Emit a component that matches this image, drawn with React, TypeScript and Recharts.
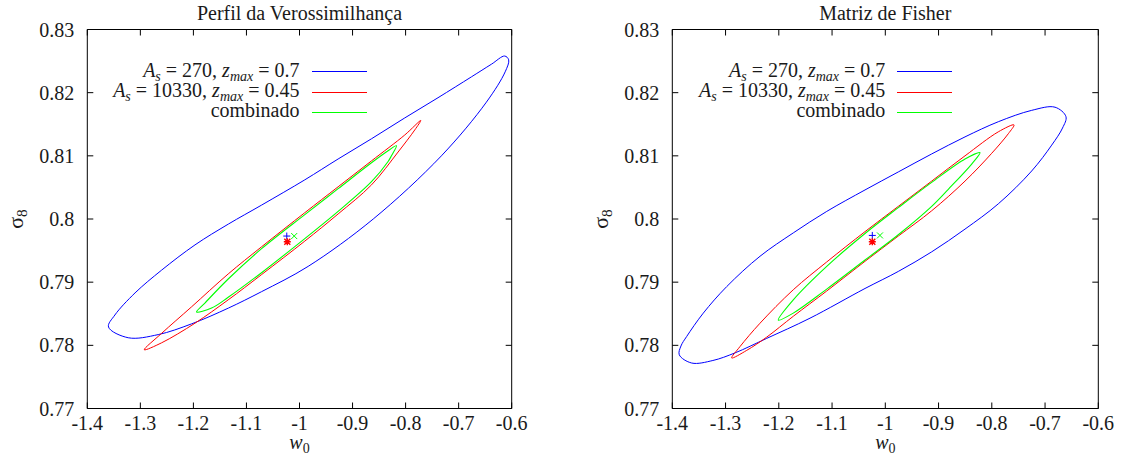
import React from "react";
import { ScatterChart, Scatter, XAxis, YAxis, ReferenceArea } from "recharts";

const X_TICKS = [-1.4, -1.3, -1.2, -1.1, -1, -0.9, -0.8, -0.7, -0.6];
const Y_TICKS = [0.77, 0.78, 0.79, 0.8, 0.81, 0.82, 0.83];

// legend: survey area A_s and z_max for the two single-survey contours
const AREAS = ["270", "10330"];
const ZMAX = ["0.7", "0.45"];
const COMBINED = "combinado";

const TITLES = ["Perfil da Verossimilhança", "Matriz de Fisher"];

// contours as [w0, sigma8] pairs, walked round each ellipse (first point repeated to close)
const perfilBlue = [
  [-1.0715, 0.8022], [-0.99, 0.8062], [-0.9272, 0.8095], [-0.8643, 0.8127], [-0.8016, 0.816],
  [-0.7389, 0.8192], [-0.676, 0.8225], [-0.6383, 0.8245], [-0.6133, 0.8258], [-0.6057, 0.8252],
  [-0.6123, 0.8233], [-0.6477, 0.8185], [-0.7325, 0.81], [-0.861, 0.8], [-0.9837, 0.7925],
  [-1.0715, 0.7885], [-1.134, 0.7859], [-1.2034, 0.7834], [-1.2663, 0.7817], [-1.3228, 0.7812],
  [-1.36, 0.7829], [-1.348, 0.7848], [-1.31, 0.7883], [-1.26, 0.7919], [-1.197, 0.7959],
  [-1.134, 0.7992], [-1.0715, 0.8022],
];
const perfilRed = [
  [-0.99, 0.801], [-0.9272, 0.8051], [-0.8643, 0.8092], [-0.8016, 0.8133], [-0.7714, 0.8156],
  [-0.7827, 0.8141], [-0.8142, 0.8106], [-0.8643, 0.8054], [-0.9272, 0.8008], [-0.99, 0.7965],
  [-1.0715, 0.7912], [-1.1344, 0.7872], [-1.1971, 0.7835], [-1.2599, 0.7804], [-1.2926, 0.7793],
  [-1.2599, 0.7819], [-1.2034, 0.7861], [-1.1344, 0.7913], [-1.0715, 0.7956], [-0.99, 0.801],
];
const perfilGreen = [
  [-0.99, 0.8007], [-0.9272, 0.8048], [-0.8643, 0.8089], [-0.833, 0.8108], [-0.8172, 0.8116],
  [-0.8261, 0.8101], [-0.833, 0.8091], [-0.8643, 0.8059], [-0.9272, 0.8012], [-0.99, 0.7969],
  [-1.0715, 0.7915], [-1.1344, 0.7876], [-1.1657, 0.7859], [-1.194, 0.7853], [-1.1783, 0.7867],
  [-1.1344, 0.7905], [-1.0715, 0.7953], [-0.99, 0.8007],
];
// best fits: blue +, red *, green x
const perfilBest = [[-1.024, 0.7973], [-1.023, 0.7964], [-1.01, 0.7973]];

const fisherBlue = [
  [-1.0381, 0.8046], [-0.9756, 0.80745], [-0.9129, 0.8103], [-0.8503, 0.813], [-0.7878, 0.8154],
  [-0.7251, 0.8172], [-0.6813, 0.8177], [-0.6607, 0.8162], [-0.6672, 0.8144], [-0.6875, 0.8117],
  [-0.7251, 0.8076], [-0.7878, 0.8024], [-0.8503, 0.7984], [-0.9129, 0.7948], [-0.9756, 0.7917],
  [-1.0381, 0.789], [-1.1414, 0.7843], [-1.2227, 0.7811], [-1.2823, 0.7788], [-1.3238, 0.7776],
  [-1.3636, 0.7772], [-1.3869, 0.7785], [-1.3837, 0.7799], [-1.373, 0.7814], [-1.3418, 0.7851],
  [-1.2978, 0.7893], [-1.2353, 0.7941], [-1.1728, 0.7978], [-1.11, 0.8012], [-1.0381, 0.8046],
];
const fisherRed = [
  [-1.0381, 0.798], [-0.9756, 0.802], [-0.9129, 0.806], [-0.8503, 0.81], [-0.7878, 0.8138],
  [-0.7583, 0.8149], [-0.769, 0.8135], [-0.8002, 0.8104], [-0.8503, 0.806], [-0.9129, 0.8013],
  [-0.9756, 0.7973], [-1.0381, 0.7933], [-1.11, 0.7886], [-1.1728, 0.7846], [-1.2227, 0.7813],
  [-1.2603, 0.7792], [-1.2885, 0.778], [-1.2729, 0.7798], [-1.2353, 0.7835], [-1.1728, 0.7888],
  [-1.11, 0.7932], [-1.0381, 0.798],
];
const fisherGreen = [
  [-1.0381, 0.7977], [-0.9756, 0.8018], [-0.9129, 0.8058], [-0.8503, 0.8095], [-0.8222, 0.8105],
  [-0.8378, 0.8087], [-0.8817, 0.8047], [-0.9129, 0.802], [-0.9756, 0.7975], [-1.0381, 0.7935],
  [-1.11, 0.7889], [-1.1728, 0.7851], [-1.2009, 0.784], [-1.1728, 0.7872], [-1.11, 0.7925],
  [-1.0381, 0.7977],
];
const fisherBest = [[-1.0244, 0.7974], [-1.0244, 0.7964], [-1.01, 0.7974]];

const BLUE = "#0000ff";
const RED = "#ff0000";
const GREEN = "#00ff00";
const INK = "#1a1a1a";
const FONT = '"Liberation Serif", "DejaVu Serif", serif';
const FS = 20;

const W = 1124;
const H = 459;
const PANEL_W = 562;
const PLOT_TOP = 29.5;
const PLOT_BOTTOM = 408.5;
const X_AXIS_H = 40;
const Y_AXIS_W = 60;
const TICK = 6;

type XY = { x: number; y: number };

const pts = (arr: number[][]) => arr.map(([x, y]) => ({ x, y }));
const noPoint = () => <g />;

// closed centripetal Catmull-Rom through the scaled contour points
const closedCurvePath = (raw: XY[]) => {
  const p = raw.slice(0, -1);
  const n = p.length;
  let d = `M${p[0].x},${p[0].y}`;
  for (let i = 0; i < n; i++) {
    const p0 = p[(i - 1 + n) % n];
    const p1 = p[i];
    const p2 = p[(i + 1) % n];
    const p3 = p[(i + 2) % n];
    const d01 = Math.hypot(p1.x - p0.x, p1.y - p0.y);
    const d12 = Math.hypot(p2.x - p1.x, p2.y - p1.y);
    const d23 = Math.hypot(p3.x - p2.x, p3.y - p2.y);
    const a01 = Math.sqrt(d01);
    const a12 = Math.sqrt(d12);
    const a23 = Math.sqrt(d23);
    let c1x = p1.x, c1y = p1.y, c2x = p2.x, c2y = p2.y;
    if (a01 > 1e-6) {
      const a = 2 * d01 + 3 * a01 * a12 + d12;
      const m = 3 * a01 * (a01 + a12);
      c1x = (p1.x * a - p0.x * d12 + p2.x * d01) / m;
      c1y = (p1.y * a - p0.y * d12 + p2.y * d01) / m;
    }
    if (a23 > 1e-6) {
      const b = 2 * d23 + 3 * a23 * a12 + d12;
      const m = 3 * a23 * (a23 + a12);
      c2x = (p2.x * b + p1.x * d23 - p3.x * d12) / m;
      c2y = (p2.y * b + p1.y * d23 - p3.y * d12) / m;
    }
    d += `C${c1x},${c1y},${c2x},${c2y},${p2.x},${p2.y}`;
  }
  return d + "Z";
};

const contour = (width: number) => (props: any) => (
  <path d={closedCurvePath(props.points)} stroke={props.stroke} strokeWidth={width} fill="none" />
);

const plusShape = (p: any) => (
  <path d={`M${p.cx - 3.5} ${p.cy}H${p.cx + 3.5}M${p.cx} ${p.cy - 3.5}V${p.cy + 3.5}`} stroke={BLUE} fill="none" />
);
const crossShape = (p: any) => (
  <path
    d={`M${p.cx - 3} ${p.cy - 3}L${p.cx + 3} ${p.cy + 3}M${p.cx - 3} ${p.cy + 3}L${p.cx + 3} ${p.cy - 3}`}
    stroke={GREEN}
    fill="none"
  />
);
const starShape = (p: any) => (
  <path
    d={`M${p.cx - 3.5} ${p.cy}H${p.cx + 3.5}M${p.cx} ${p.cy - 3.5}V${p.cy + 3.5}M${p.cx - 3} ${p.cy - 3}L${p.cx + 3} ${p.cy + 3}M${p.cx - 3} ${p.cy + 3}L${p.cx + 3} ${p.cy - 3}`}
    stroke={RED}
    strokeWidth={1.4}
    fill="none"
  />
);

const Sub = ({ children, italic }: { children: React.ReactNode; italic?: boolean }) => (
  <span style={{ fontSize: "0.7em", verticalAlign: "-0.28em", lineHeight: 1, fontStyle: italic ? "italic" : "normal" }}>
    {children}
  </span>
);

const surveyLabel = (i: number) => (
  <>
    <i>A</i>
    <Sub italic>s</Sub> = {AREAS[i]}, <i>z</i>
    <Sub italic>max</Sub> = {ZMAX[i]}
  </>
);

interface PanelProps {
  left: number;
  plotLeft: number;
  plotRight: number;
  title: string;
  blue: number[][];
  red: number[][];
  green: number[][];
  best: number[][];
}

function Panel({ left, plotLeft, plotRight, title, blue, red, green, best }: PanelProps) {
  const plotW = plotRight - plotLeft;
  const plotH = PLOT_BOTTOM - PLOT_TOP;
  const mid = (plotLeft + plotRight) / 2 - left;
  const textStyle = { fontFamily: FONT, fontSize: FS, fill: INK };

  // gnuplot-style ticks: pointing inwards on all four sides
  const xTick = (props: any) => {
    const { x, y, payload } = props;
    return (
      <g>
        <line x1={x} x2={x} y1={y} y2={y - TICK} stroke="#000" />
        <line x1={x} x2={x} y1={y - plotH} y2={y - plotH + TICK} stroke="#000" />
        <text x={x} y={y + 21.5} textAnchor="middle" style={textStyle}>
          {String(payload.value)}
        </text>
      </g>
    );
  };
  const yTick = (props: any) => {
    const { x, y, payload } = props;
    return (
      <g>
        <line x1={x} x2={x + TICK} y1={y} y2={y} stroke="#000" />
        <line x1={x + plotW - TICK} x2={x + plotW} y1={y} y2={y} stroke="#000" />
        <text x={x - 13} y={y + 7} textAnchor="end" style={textStyle}>
          {String(payload.value)}
        </text>
      </g>
    );
  };

  const rows = [
    { label: surveyLabel(0), color: BLUE, base: 77.5, line: 71.7, width: 1 },
    { label: surveyLabel(1), color: RED, base: 97.7, line: 92, width: 1 },
    { label: <>{COMBINED}</>, color: GREEN, base: 118, line: 112.3, width: 1.4 },
  ];

  return (
    <div style={{ position: "absolute", left, top: 0, width: PANEL_W, height: H }}>
      <ScatterChart
        width={PANEL_W}
        height={H}
        margin={{
          top: PLOT_TOP,
          bottom: H - PLOT_BOTTOM - X_AXIS_H,
          left: plotLeft - left - Y_AXIS_W,
          right: left + PANEL_W - plotRight,
        }}
      >
        <XAxis
          type="number"
          dataKey="x"
          domain={[-1.4, -0.6]}
          ticks={X_TICKS}
          interval={0}
          height={X_AXIS_H}
          axisLine={false}
          tickLine={false}
          tickSize={0}
          tickMargin={0}
          tick={xTick}
        />
        <YAxis
          type="number"
          dataKey="y"
          domain={[0.77, 0.83]}
          ticks={Y_TICKS}
          interval={0}
          width={Y_AXIS_W}
          axisLine={false}
          tickLine={false}
          tickSize={0}
          tickMargin={0}
          tick={yTick}
        />
        <ReferenceArea x1={-1.4} x2={-0.6} y1={0.77} y2={0.83} fill="none" stroke="#000" strokeWidth={1} />
        <Scatter data={pts(blue)} fill={BLUE} line={contour(1)} shape={noPoint} isAnimationActive={false} />
        <Scatter data={pts(red)} fill={RED} line={contour(1)} shape={noPoint} isAnimationActive={false} />
        <Scatter data={pts(green)} fill={GREEN} line={contour(1.1)} shape={noPoint} isAnimationActive={false} />
        <Scatter data={pts([best[0]])} fill={BLUE} shape={plusShape} isAnimationActive={false} />
        <Scatter data={pts([best[1]])} fill={RED} shape={starShape} isAnimationActive={false} />
        <Scatter data={pts([best[2]])} fill={GREEN} shape={crossShape} isAnimationActive={false} />
      </ScatterChart>

      <div
        style={{
          position: "absolute",
          left: mid - 200,
          width: 400,
          top: 1.7,
          textAlign: "center",
          fontFamily: FONT,
          fontSize: FS,
          lineHeight: "22px",
          color: INK,
        }}
      >
        {title}
      </div>

      {rows.map((r, i) => (
        <React.Fragment key={i}>
          <div
            style={{
              position: "absolute",
              right: PANEL_W - mid,
              top: r.base - 18.8,
              whiteSpace: "nowrap",
              fontFamily: FONT,
              fontSize: FS,
              lineHeight: "22px",
              color: INK,
              textAlign: "right",
            }}
          >
            {r.label}
          </div>
          <div
            style={{
              position: "absolute",
              left: mid + 12,
              width: 55,
              top: r.line - r.width / 2,
              height: 0,
              borderTop: `${r.width}px solid ${r.color}`,
            }}
          />
        </React.Fragment>
      ))}

      <div
        style={{
          position: "absolute",
          left: plotLeft - left - 70,
          top: (PLOT_TOP + PLOT_BOTTOM) / 2,
          transform: "translate(-50%, -50%) rotate(-90deg)",
          fontFamily: FONT,
          fontSize: 22,
          lineHeight: "24px",
          color: INK,
          whiteSpace: "nowrap",
        }}
      >
        σ<Sub>8</Sub>
      </div>

      <div
        style={{
          position: "absolute",
          left: mid - 50,
          width: 100,
          top: 430,
          textAlign: "center",
          fontFamily: FONT,
          fontSize: FS,
          lineHeight: "24px",
          color: INK,
        }}
      >
        <i>w</i>
        <Sub>0</Sub>
      </div>
    </div>
  );
}

export default function App() {
  return (
    <div style={{ position: "absolute", left: 0, top: 0, width: W, height: H, background: "#fff", overflow: "hidden" }}>
      <Panel
        left={0}
        plotLeft={87.3}
        plotRight={511.7}
        title={TITLES[0]}
        blue={perfilBlue}
        red={perfilRed}
        green={perfilGreen}
        best={perfilBest}
      />
      <Panel
        left={PANEL_W}
        plotLeft={672.3}
        plotRight={1098.3}
        title={TITLES[1]}
        blue={fisherBlue}
        red={fisherRed}
        green={fisherGreen}
        best={fisherBest}
      />
    </div>
  );
}
